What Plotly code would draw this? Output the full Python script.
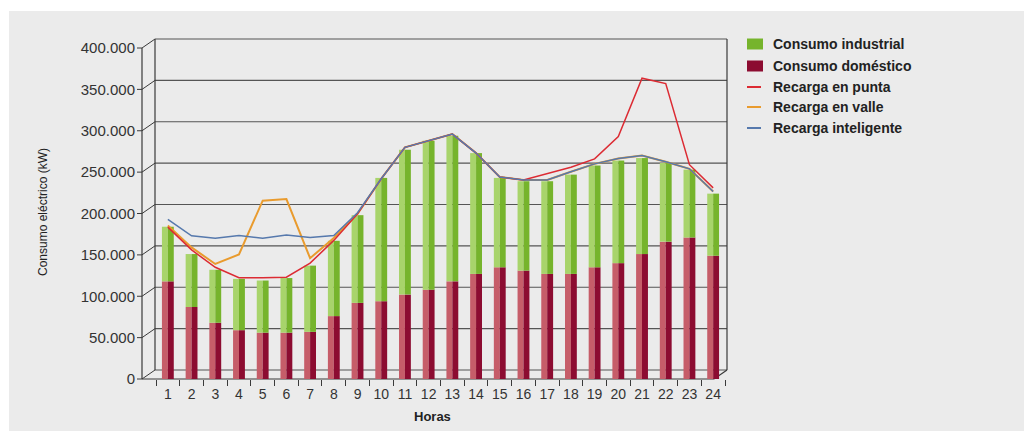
import plotly.graph_objects as go

horas = [str(h) for h in range(1, 25)]
# kW values
consumo_domestico = [118000, 87000, 68000, 59000, 56000, 56000, 57000, 76000, 92000, 94000, 102000, 108000,
                     118000, 127000, 135000, 131000, 127000, 127000, 135000, 140000, 151000, 166000, 171000, 149000]
consumo_industrial = [66000, 64000, 64000, 62000, 63000, 66000, 80000, 91000, 106000, 149000, 175000, 180000,
                      176000, 146000, 108000, 108000, 112000, 120000, 123000, 124000, 116000, 95000, 82000, 75000]
recarga_punta = [183500, 156000, 135000, 122500, 122500, 123000, 140000, 167500, 199500, 242000, 280000, 288000,
                 296000, 273000, 244000, 240500, 248000, 256000, 266000, 293000, 363500, 357000, 259000, 231000]
recarga_valle = [185500, 159000, 139000, 150500, 215500, 217500, 146000, 170500, 199500, 242000, 280000, 288000,
                 296000, 273000, 244000, 240500, 240500, 250500, 260000, 266500, 270000, 262500, 254000, 226500]
recarga_inteligente = [193000, 173000, 170000, 173500, 170000, 174000, 171000, 173500, 201000, 242000, 280000, 288000,
                       296000, 273000, 244000, 240500, 240500, 250500, 260000, 266500, 270000, 262500, 254000, 226500]
y_ticks = list(range(0, 400001, 50000))

W_FIG, H_FIG = 1024, 431
L, R, T, B = 156, 725, 48, 379
PW, PH = R - L, B - T


def px(x):
    return (x - L) / PW


def py(y):
    return (B - y) / PH


BG = "#ebebeb"
FRAME = "#3a3a3a"
GRID = "#555555"
DEPTH_Y = 9  # back wall shift (px)
FRONT_X = 142
BACK_X = 155
RIGHT_X = 727

fig = go.Figure()

dom_light, dom_dark = "#c65d69", "#8c0c31"
ind_light, ind_dark = "#a8d46b", "#76b42c"

fig.add_trace(go.Bar(x=horas, y=consumo_domestico, offset=-0.25, width=0.25,
                     marker=dict(color=dom_light, line=dict(width=0)), showlegend=False))
fig.add_trace(go.Bar(x=horas, y=consumo_domestico, offset=0.0, width=0.25,
                     marker=dict(color=dom_dark, line=dict(width=0)), showlegend=False))
fig.add_trace(go.Bar(x=horas, y=consumo_industrial, base=consumo_domestico, offset=-0.25, width=0.25,
                     marker=dict(color=ind_light, line=dict(width=0)), showlegend=False))
fig.add_trace(go.Bar(x=horas, y=consumo_industrial, base=consumo_domestico, offset=0.0, width=0.25,
                     marker=dict(color=ind_dark, line=dict(width=0)), showlegend=False))

c_valle, c_punta, c_int = "#e99b2e", "#dc2b33", "#5679ad"
fig.add_trace(go.Scatter(x=horas, y=recarga_valle, mode="lines",
                         line=dict(color=c_valle, width=2), showlegend=False))
fig.add_trace(go.Scatter(x=horas, y=recarga_punta, mode="lines",
                         line=dict(color=c_punta, width=1.5), showlegend=False))
fig.add_trace(go.Scatter(x=horas, y=recarga_inteligente, mode="lines",
                         line=dict(color=c_int, width=1.5), showlegend=False))

shapes = []
# white strips of the original picture
shapes.append(dict(type="rect", xref="paper", yref="paper", x0=px(0), x1=px(W_FIG), y0=py(0), y1=py(11),
                   fillcolor="white", line=dict(width=0), layer="below"))
shapes.append(dict(type="rect", xref="paper", yref="paper", x0=px(0), x1=px(9), y0=py(0), y1=py(H_FIG),
                   fillcolor="white", line=dict(width=0), layer="below"))


def line(x0, y0, x1, y1, color=FRAME, width=1):
    shapes.append(dict(type="line", xref="paper", yref="paper", x0=px(x0), y0=py(y0), x1=px(x1), y1=py(y1),
                       line=dict(color=color, width=width), layer="below"))


for v in y_ticks:
    yf = B - v / 400000 * PH  # front pixel
    yb = yf - DEPTH_Y
    line(BACK_X, yb, RIGHT_X, yb, GRID, 1.2)
    line(FRONT_X, yf, BACK_X, yb, FRAME, 1)
    line(FRONT_X - 5, yf, FRONT_X, yf, FRAME, 1)

# frame
line(FRONT_X, T, FRONT_X, B, FRAME, 1.2)
line(BACK_X, T - DEPTH_Y, BACK_X, B - DEPTH_Y, FRAME, 1.2)
line(RIGHT_X, T - DEPTH_Y, RIGHT_X, B - DEPTH_Y, FRAME, 1.2)
line(FRONT_X, B, RIGHT_X - 13, B, FRAME, 1.2)
line(RIGHT_X - 13, B, RIGHT_X, B - DEPTH_Y, FRAME, 1.2)

# legend (manual)
legend_items = [
    ("Consumo industrial", "box", ind_dark),
    ("Consumo doméstico", "box", dom_dark),
    ("Recarga en punta", "line", c_punta),
    ("Recarga en valle", "line", c_valle),
    ("Recarga inteligente", "line", c_int),
]
legend_y = [44, 66, 87, 107, 128]
annotations = []
for (name, kind, col), yc in zip(legend_items, legend_y):
    if kind == "box":
        shapes.append(dict(type="rect", xref="paper", yref="paper", x0=px(747), x1=px(763),
                           y0=py(yc - 5.5), y1=py(yc + 5.5), fillcolor=col, line=dict(width=0)))
    else:
        shapes.append(dict(type="line", xref="paper", yref="paper", x0=px(747), x1=px(761),
                           y0=py(yc), y1=py(yc), line=dict(color=col, width=2)))
    annotations.append(dict(text=f"<b>{name}</b>", xref="paper", yref="paper", x=px(771), y=py(yc),
                            xanchor="left", yanchor="middle", showarrow=False,
                            font=dict(family="Liberation Sans, Arial, sans-serif", size=14, color="#222222")))

annotations.append(dict(text="Consumo eléctrico (kW)", xref="paper", yref="paper", x=px(43), y=py(212),
                        xanchor="center", yanchor="middle", textangle=-90, showarrow=False,
                        font=dict(family="Liberation Sans, Arial, sans-serif", size=12,
                                  color="#222222")))
annotations.append(dict(text="<b>Horas</b>", xref="paper", yref="paper", x=px(432), y=py(416),
                        xanchor="center", yanchor="middle", showarrow=False,
                        font=dict(family="Liberation Sans, Arial, sans-serif", size=13, color="#222222")))

fig.update_layout(
    width=W_FIG, height=H_FIG,
    margin=dict(l=L, r=W_FIG - R, t=T, b=H_FIG - B, pad=0),
    paper_bgcolor=BG, plot_bgcolor=BG,
    barmode="overlay",
    separators=",.",
    shapes=shapes, annotations=annotations,
    font=dict(family="Liberation Sans, Arial, sans-serif", color="#333333"),
    xaxis=dict(type="category", categoryorder="array", categoryarray=horas,
               tickson="boundaries", ticks="outside", ticklen=6, tickcolor=FRAME, tickwidth=1,
               tickangle=0, ticklabelstandoff=5,
               showline=False, showgrid=False, zeroline=False,
               tickfont=dict(size=14, color="#333333")),
    yaxis=dict(range=[0, 400000], tickvals=y_ticks, tickformat=",d",
               ticks="", showline=False, showgrid=False, zeroline=False,
               ticklabelstandoff=20,
               tickfont=dict(size=15, color="#333333")),
)

fig.write_html("out.html")
